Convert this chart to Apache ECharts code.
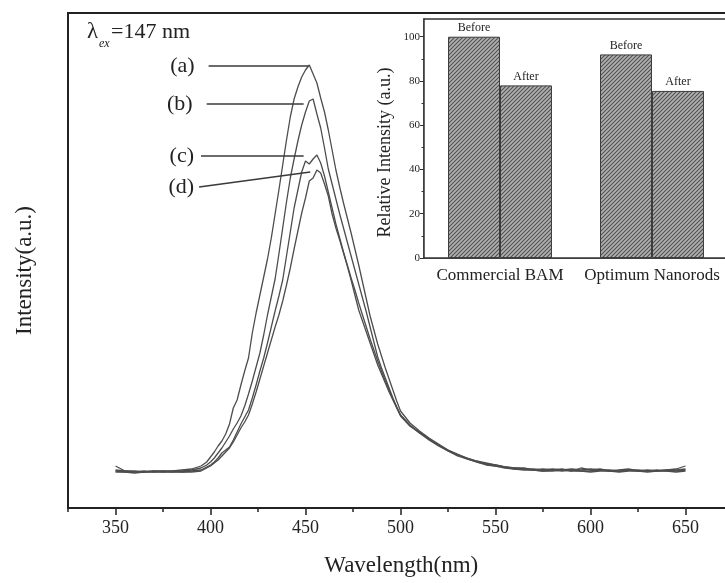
<!DOCTYPE html>
<html>
<head>
<meta charset="utf-8">
<script src="https://cdn.jsdelivr.net/npm/echarts@6/dist/echarts.min.js"></script>
<style>
  html, body { margin: 0; padding: 0; background: #fff; }
  #chart { width: 725px; height: 583px; }
</style>
</head>
<body>
<div id="chart"></div>
<script>
// Emission spectra under 147 nm excitation (intensity in arbitrary units)
const wavelength = [
  350,355,360,365,370,375,380,385,390,395,
  396,398,400,402,404,406,408,410,412,414,416,418,420,422,424,426,428,430,432,434,
  436,438,440,442,444,446,448,450,452,454,456,458,460,462,464,466,468,470,472,474,
  476,478,480,482,484,486,488,490,492,494,496,498,500,
  505,510,515,520,525,530,535,540,545,550,555,560,565,570,575,580,585,590,595,600,
  605,610,615,620,625,630,635,640,645,650
];

const curveA = [
  42,37,36,37,36,37,37,38,39,42,
  43,46,51,56,62,67,74,84,100,108,123,137,150,175,195,213,231,249,270,294,
  318,343,368,391,409,421,431,438,443,434,425,410,396,378,358,338,321,305,290,275,
  259,243,226,209,192,178,164,152,140,129,118,107,97,
  85,77,70,64,58,54,50,47,45,43,41,40,40,38,39,38,39,37,40,38,
  39,37,38,39,37,38,37,38,39,42
];

const curveB = [
  38,37,37,36,37,37,36,37,38,40,
  41,43,46,50,55,60,66,72,79,85,92,102,114,127,141,155,173,193,211,229,
  254,280,306,330,349,367,383,396,407,409,394,380,360,339,324,309,294,280,266,252,
  238,224,210,196,181,166,151,140,130,120,110,101,93,
  82,76,69,63,58,53,50,47,44,43,41,40,39,39,38,39,38,39,38,39,
  38,38,37,38,38,37,38,37,38,39
];

const curveC = [
  37,36,36,36,37,36,37,36,37,38,
  39,41,43,46,50,55,58,61,68,76,84,91,98,110,123,137,150,165,181,197,
  212,228,252,276,300,318,336,347,344,349,353,345,332,316,300,284,270,256,243,230,
  218,205,193,181,169,158,147,137,127,118,109,101,93,
  83,75,69,63,57,53,49,46,44,42,41,39,39,38,37,38,37,38,37,37,
  38,37,37,38,37,37,37,38,37,38
];

const curveD = [
  36,36,35,36,36,36,36,36,36,37,
  38,40,42,45,48,52,56,60,66,73,80,86,93,104,116,129,142,155,168,181,
  193,207,223,240,259,277,295,310,327,330,338,335,324,312,294,280,268,255,242,228,
  213,198,187,176,165,154,143,134,125,116,108,100,92,
  82,75,68,62,57,52,49,46,43,42,40,39,38,38,37,37,38,37,37,36,
  37,37,36,37,37,36,37,37,36,37
];

const curveNames = ['(a)', '(b)', '(c)', '(d)'];
const curves = [curveA, curveB, curveC, curveD];

// Leader lines from each label to its curve: [startWavelength, startValue, endWavelength, endValue]
const leaders = [
  [399, 442, 451.5, 442],
  [398, 404, 449, 404],
  [395, 352, 449, 352],
  [394, 321, 452.5, 336]
];
const leaderGap = [14, 14, 7, 5];

// Inset: relative intensity before/after
const insetCategories = ['Commercial BAM', 'Optimum Nanorods'];
const beforeValues = [100, 92];
const afterValues = [78, 75.5];

// Axis ticks
const xMajorTicks = [350, 400, 450, 500, 550, 600, 650, 700];
const xLabelValues = [350, 400, 450, 500, 550, 600, 650];
const xMinorTicks = [325, 375, 425, 475, 525, 575, 625, 675];
const insetMajorTicks = [0, 20, 40, 60, 80, 100];
const insetMinorTicks = [10, 30, 50, 70, 90];

const SERIF = "'Liberation Serif', 'Times New Roman', serif";
const INK = '#222';

// Diagonal hatch used to fill the inset bars
function hatchPattern() {
  const c = document.createElement('canvas');
  c.width = 4; c.height = 4;
  const g = c.getContext('2d');
  g.fillStyle = '#b2b2b2';
  g.fillRect(0, 0, 4, 4);
  g.strokeStyle = '#505050';
  g.lineWidth = 1.1;
  g.beginPath();
  g.moveTo(-1, 5); g.lineTo(5, -1);
  g.moveTo(-1, 1); g.lineTo(1, -1);
  g.moveTo(3, 5); g.lineTo(5, 3);
  g.stroke();
  return c;
}
const hatch = { image: hatchPattern(), repeat: 'repeat' };

const chart = echarts.init(document.getElementById('chart'), null, { renderer: 'canvas' });

const lineSeries = curves.map((vals, i) => {
  const l = leaders[i];
  return {
    name: curveNames[i],
    type: 'line',
    xAxisIndex: 0,
    yAxisIndex: 0,
    data: wavelength.map((w, k) => [w, vals[k]]),
    showSymbol: false,
    symbol: 'none',
    lineStyle: { color: '#4d4d4d', width: 1.3 },
    silent: true,
    z: 3,
    markLine: {
      silent: true,
      symbol: ['none', 'none'],
      lineStyle: { color: '#3a3a3a', width: 1.6, type: 'solid' },
      label: {
        show: true,
        position: 'start',
        distance: leaderGap[i],
        formatter: curveNames[i],
        fontFamily: SERIF,
        fontSize: 22,
        color: INK
      },
      data: [[{ coord: [l[0], l[1]] }, { coord: [l[2], l[3]] }]]
    }
  };
});

const option = {
  animation: false,
  backgroundColor: '#fff',
  grid: [
    { left: 68, top: 13, width: 712.5, height: 495, outerBoundsMode: 'none', containLabel: false,
      show: true, borderColor: INK, borderWidth: 2, backgroundColor: 'transparent' },
    { left: 424, top: 19, width: 304, height: 239, outerBoundsMode: 'none', containLabel: false,
      show: true, borderColor: '#333', borderWidth: 1.5, backgroundColor: '#fff', z: 1 }
  ],
  xAxis: [
    {
      gridIndex: 0, type: 'value', position: 'bottom', min: 325, max: 700, interval: 25,
      axisLine: { show: true, lineStyle: { color: INK, width: 2 } },
      axisTick: { show: true, inside: false, length: 7, customValues: xMajorTicks, lineStyle: { color: INK, width: 1.5 } },
      axisLabel: {
        show: true, customValues: xLabelValues, margin: 11,
        fontFamily: SERIF, fontSize: 18, color: INK,
        formatter: v => (v % 50 === 0 && v <= 650 && v >= 350) ? String(v) : ''
      },
      splitLine: { show: false },
      name: 'Wavelength(nm)', nameLocation: 'middle', nameGap: 46,
      nameTextStyle: { fontFamily: SERIF, fontSize: 23, color: INK, padding: [0, 46, 0, 0] }
    },
    {
      gridIndex: 1, type: 'category', position: 'bottom', data: insetCategories,
      axisLine: { show: true, lineStyle: { color: '#333', width: 1.5 } },
      axisTick: { show: false },
      axisLabel: { interval: 0, hideOverlap: false, margin: 9, fontFamily: SERIF, fontSize: 17, color: INK },
      splitLine: { show: false }
    },
    {
      gridIndex: 0, type: 'value', position: 'bottom', min: 325, max: 700, interval: 25,
      axisLine: { show: false },
      axisTick: { show: true, inside: false, length: 4, customValues: xMinorTicks, lineStyle: { color: INK, width: 1.5 } },
      axisLabel: { show: false },
      splitLine: { show: false }
    }
  ],
  yAxis: [
    {
      gridIndex: 0, type: 'value', position: 'left', min: 0, max: 495,
      axisLine: { show: true, lineStyle: { color: INK, width: 2 } },
      axisTick: { show: false },
      axisLabel: { show: false },
      splitLine: { show: false },
      name: 'Intensity(a.u.)', nameLocation: 'middle', nameGap: 32,
      nameTextStyle: { fontFamily: SERIF, fontSize: 23, color: INK, padding: [0, 20, 0, 0] }
    },
    {
      gridIndex: 1, type: 'value', position: 'left', min: 0, max: 108, interval: 20,
      axisLine: { show: true, lineStyle: { color: '#333', width: 1.5 } },
      axisTick: { show: true, inside: false, length: 4, customValues: insetMajorTicks, lineStyle: { color: '#333' } },
      axisLabel: {
        customValues: insetMajorTicks, margin: 4,
        fontFamily: SERIF, fontSize: 11, color: INK,
        formatter: v => (v % 20 === 0 && v <= 100) ? String(v) : ''
      },
      splitLine: { show: false },
      name: 'Relative Intensity (a.u.)', nameLocation: 'middle', nameGap: 30,
      nameTextStyle: { fontFamily: SERIF, fontSize: 18, color: INK, padding: [0, 28, 0, 0] }
    },
    {
      gridIndex: 1, type: 'value', position: 'left', offset: 0, min: 0, max: 108, interval: 20,
      axisLine: { show: false },
      axisTick: { show: true, inside: false, length: 2.5, customValues: insetMinorTicks, lineStyle: { color: '#333' } },
      axisLabel: { show: false },
      splitLine: { show: false }
    }
  ],
  graphic: [
    { type: 'text', left: 87, top: 20, z: 10, style: { text: 'λ', font: '23px ' + SERIF, fill: INK } },
    { type: 'text', left: 99, top: 38, z: 10, style: { text: 'ex', font: 'italic 12px ' + SERIF, fill: INK } },
    { type: 'text', left: 111, top: 21, z: 10, style: { text: '=147 nm', font: '22px ' + SERIF, fill: INK } }
  ],
  series: lineSeries.concat([
    {
      name: 'Before', type: 'bar', xAxisIndex: 1, yAxisIndex: 1,
      data: beforeValues, barGap: '0%', barCategoryGap: '31.6%',
      itemStyle: { color: hatch, borderColor: '#3c3c3c', borderWidth: 1 },
      label: { show: true, position: 'top', distance: 3, formatter: 'Before', fontFamily: SERIF, fontSize: 12, color: INK },
      silent: true, z: 4
    },
    {
      name: 'After', type: 'bar', xAxisIndex: 1, yAxisIndex: 1,
      data: afterValues, barGap: '0%', barCategoryGap: '31.6%',
      itemStyle: { color: hatch, borderColor: '#3c3c3c', borderWidth: 1 },
      label: { show: true, position: 'top', distance: 3, formatter: 'After', fontFamily: SERIF, fontSize: 12, color: INK },
      silent: true, z: 4
    }
  ])
};

chart.setOption(option);
</script>
</body>
</html>
